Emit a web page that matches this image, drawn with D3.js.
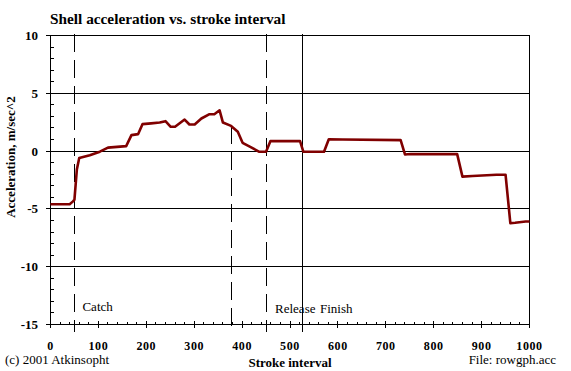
<!DOCTYPE html>
<html>
<head>
<meta charset="utf-8">
<script src="https://cdn.jsdelivr.net/npm/d3@7"></script>
<style>
  body { margin: 0; background: #fff; }
  svg { display: block; }
  text { font-family: "Liberation Serif", "Times New Roman", serif; }
</style>
</head>
<body>
<div id="chart"></div>
<script>
// ========= Data ========= //
const strokeX = [0, 40, 47, 50, 55, 60, 82, 103, 120, 158, 169, 183, 192, 210, 228, 240, 251, 260, 280, 290, 301,
  315, 332, 342, 353, 360, 377, 391, 401, 419, 436, 450, 459, 521, 528, 571, 581, 610, 731, 740, 752,
  849, 860, 881, 931, 950, 960, 970, 992, 1000];
const accel = [-4.6, -4.6, -4.35, -4.2, -1.6, -0.6, -0.35, -0.05, 0.3, 0.43, 1.38, 1.47, 2.33, 2.4, 2.47, 2.59, 2.1, 2.1, 2.73, 2.3, 2.3,
  2.82, 3.19, 3.19, 3.53, 2.47, 2.18, 1.67, 0.72, 0.32, -0.06, -0.06, 0.86, 0.86, -0.06, -0.06, 1.03, 1.0, 0.95, -0.29, -0.25,
  -0.26, -2.21, -2.16, -2.04, -2.04, -6.24, -6.2, -6.09, -6.09];

const xTicks = [0, 100, 200, 300, 400, 500, 600, 700, 800, 900, 1000];
const yTicks = [10, 5, 0, -5, -10, -15];

// stroke phase markers
const markerX = [50, 377, 450, 525];
const markerLabels = ['Catch', '', 'Release', 'Finish'];
const markerDashed = [true, true, true, false];

// ========= Layout ========= //
const width = 571;
const height = 371;
const plot = { left: 50.5, right: 529.5, top: 35.5, bottom: 324.5 };
const labelDx = [8, 0, 9, 18];

const x = d3.scaleLinear().domain([0, 1000]).range([plot.left, plot.right]);
const y = d3.scaleLinear().domain([-15, 10]).range([plot.bottom, plot.top]);

const svg = d3.select('#chart').append('svg')
  .attr('width', width)
  .attr('height', height);

svg.append('rect').attr('width', width).attr('height', height).attr('fill', '#fff');

// ========= Gridlines (major y) ========= //
svg.append('g')
  .attr('stroke', '#000')
  .attr('shape-rendering', 'crispEdges')
  .selectAll('line')
  .data(yTicks)
  .join('line')
  .attr('x1', plot.left - 4.5)
  .attr('x2', plot.right)
  .attr('y1', (d) => y(d))
  .attr('y2', (d) => y(d));

// minor y ticks
svg.append('g')
  .attr('stroke', '#000')
  .attr('shape-rendering', 'crispEdges')
  .selectAll('line')
  .data(d3.range(-14, 10).filter((d) => d % 5 !== 0))
  .join('line')
  .attr('x1', plot.left)
  .attr('x2', plot.left + 3)
  .attr('y1', (d) => y(d))
  .attr('y2', (d) => y(d));

// minor x ticks
svg.append('g')
  .attr('stroke', '#000')
  .attr('shape-rendering', 'crispEdges')
  .selectAll('line')
  .data(d3.range(20, 1000, 20).filter((d) => d % 100 !== 0))
  .join('line')
  .attr('x1', (d) => x(d))
  .attr('x2', (d) => x(d))
  .attr('y1', plot.bottom - 3)
  .attr('y2', plot.bottom);

// major x ticks
svg.append('g')
  .attr('stroke', '#000')
  .attr('shape-rendering', 'crispEdges')
  .selectAll('line')
  .data(xTicks)
  .join('line')
  .attr('x1', (d) => x(d))
  .attr('x2', (d) => x(d))
  .attr('y1', plot.bottom - 4)
  .attr('y2', plot.bottom + 3);

// frame (left axis + right edge)
svg.append('g')
  .attr('stroke', '#000')
  .attr('shape-rendering', 'crispEdges')
  .selectAll('line')
  .data([plot.left, plot.right])
  .join('line')
  .attr('x1', (d) => d)
  .attr('x2', (d) => d)
  .attr('y1', plot.top)
  .attr('y2', plot.bottom);

// ========= Phase markers ========= //
const bisect = d3.bisector((d) => d).left;
function valueAt(sx) {
  const i = Math.max(1, bisect(strokeX, sx));
  const t = (sx - strokeX[i - 1]) / (strokeX[i] - strokeX[i - 1]);
  return accel[i - 1] + t * (accel[i] - accel[i - 1]);
}

svg.append('g')
  .attr('stroke', '#000')
  .attr('shape-rendering', 'crispEdges')
  .selectAll('line')
  .data(markerX)
  .join('line')
  .attr('x1', (d) => Math.round(x(d)) + 0.5)
  .attr('x2', (d) => Math.round(x(d)) + 0.5)
  .attr('y1', (d, i) => markerLabels[i] ? plot.top - 2 : y(valueAt(d)))
  .attr('y2', plot.bottom + 7.5)
  .attr('stroke-dasharray', (d, i) => markerDashed[i] ? '18,8' : null);

svg.append('g')
  .attr('font-size', 13)
  .selectAll('text')
  .data(markerX)
  .join('text')
  .attr('x', (d, i) => x(d) + labelDx[i])
  .attr('y', (d, i) => i === 0 ? 311 : 313)
  .text((d, i) => markerLabels[i]);

// ========= Data line ========= //
const line = d3.line()
  .x((d) => x(d[0]))
  .y((d) => y(d[1]));

svg.append('path')
  .datum(d3.zip(strokeX, accel))
  .attr('fill', 'none')
  .attr('stroke', '#800000')
  .attr('stroke-width', 2.6)
  .attr('stroke-linejoin', 'round')
  .attr('d', line);

// ========= Tick labels ========= //
svg.append('g')
  .attr('font-size', 13)
  .attr('font-weight', 'bold')
  .attr('text-anchor', 'end')
  .selectAll('text')
  .data(yTicks)
  .join('text')
  .attr('x', 38)
  .attr('y', (d) => y(d) + 4.5)
  .text((d) => d);

svg.append('g')
  .attr('font-size', 12)
  .attr('font-weight', 'bold')
  .attr('letter-spacing', 0.6)
  .attr('text-anchor', 'middle')
  .selectAll('text')
  .data(xTicks)
  .join('text')
  .attr('x', (d) => x(d))
  .attr('y', 349.5)
  .text((d) => d);

// ========= Titles ========= //
svg.append('text')
  .attr('x', 50)
  .attr('y', 24)
  .attr('font-size', 15.3)
  .attr('font-weight', 'bold')
  .text('Shell acceleration vs. stroke interval');

svg.append('text')
  .attr('transform', `translate(15 ${157}) rotate(-90)`)
  .attr('font-size', 13)
  .attr('font-weight', 'bold')
  .attr('text-anchor', 'middle')
  .text('Acceleration, m/sec^2');

svg.append('text')
  .attr('x', (plot.left + plot.right) / 2)
  .attr('y', 366.5)
  .attr('font-size', 13)
  .attr('font-weight', 'bold')
  .attr('text-anchor', 'middle')
  .text('Stroke interval');

svg.append('text')
  .attr('x', 5)
  .attr('y', 364)
  .attr('font-size', 13)
  .text('(c) 2001 Atkinsopht');

svg.append('text')
  .attr('x', 556)
  .attr('y', 364)
  .attr('font-size', 13)
  .attr('text-anchor', 'end')
  .text('File: rowgph.acc');
</script>
</body>
</html>
